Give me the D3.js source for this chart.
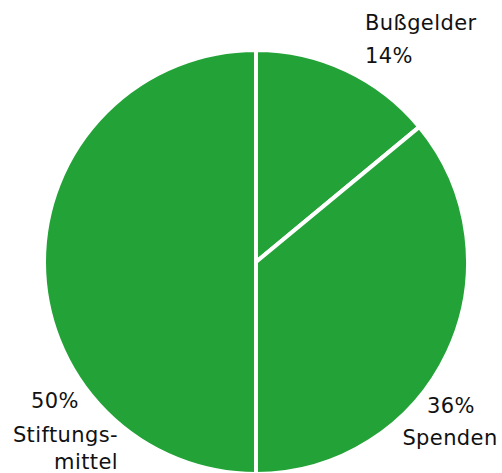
<!DOCTYPE html>
<html><head><meta charset="utf-8">
<script src="https://cdn.jsdelivr.net/npm/d3@7"></script>
<style>html,body{margin:0;padding:0;background:#fff;overflow:hidden}</style>
</head><body>
<svg id="c" width="502" height="473"></svg>
<script>
const categories = ["Bußgelder", "Spenden", "Stiftungsmittel"];
const values = [14, 36, 50];
const labelLines = [["Bußgelder", "14%"], ["36%", "Spenden"], ["50%", "Stiftungs-", "mittel"]];

const svg = d3.select("#c");
const cx = 256, cy = 262, r = 212;
const g = svg.append("g").attr("transform", `translate(${cx},${cy})`);
const pie = d3.pie().sort(null).value(d => d)(values);
const arc = d3.arc().innerRadius(0).outerRadius(r);
g.selectAll("path").data(pie).join("path")
  .attr("d", arc).attr("fill", "#23a337")
  .attr("stroke", "#fff").attr("stroke-width", 4).attr("stroke-linejoin", "round");

const font = "'DejaVu Sans', sans-serif";
const layout = [
  [{x: 365, y: 30, a: "start"}, {x: 365, y: 63, a: "start"}],
  [{x: 451, y: 413, a: "middle"}, {x: 450, y: 445, a: "middle"}],
  [{x: 55, y: 408, a: "middle"}, {x: 118, y: 442, a: "end"}, {x: 118, y: 469, a: "end"}]
];
labelLines.forEach((lines, i) => {
  lines.forEach((t, j) => {
    const p = layout[i][j];
    svg.append("text").attr("x", p.x).attr("y", p.y)
      .attr("text-anchor", p.a).attr("font-family", font).attr("font-size", 21)
      .attr("letter-spacing", 0.4)
      .attr("fill", "#111").text(t);
  });
});
</script>
</body></html>
